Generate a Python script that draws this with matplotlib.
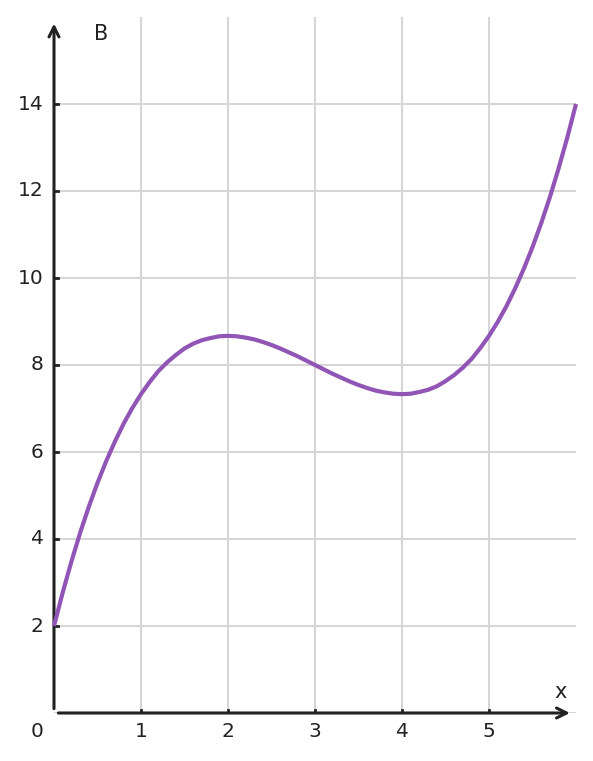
import matplotlib
matplotlib.use("Agg")
import matplotlib.pyplot as plt

# valores (paso 0.1)
x_vals = [0.0, 0.1, 0.2, 0.3, 0.4, 0.5, 0.6, 0.7, 0.8, 0.9,
          1.0, 1.1, 1.2, 1.3, 1.4, 1.5, 1.6, 1.7, 1.8, 1.9,
          2.0, 2.1, 2.2, 2.3, 2.4, 2.5, 2.6, 2.7, 2.8, 2.9,
          3.0, 3.1, 3.2, 3.3, 3.4, 3.5, 3.6, 3.7, 3.8, 3.9,
          4.0, 4.1, 4.2, 4.3, 4.4, 4.5, 4.6, 4.7, 4.8, 4.9,
          5.0, 5.1, 5.2, 5.3, 5.4, 5.5, 5.6, 5.7, 5.8, 5.9, 6.0]
b_vals = [2.00, 2.77, 3.48, 4.14, 4.74, 5.29, 5.79, 6.24, 6.65, 7.01,
          7.33, 7.61, 7.86, 8.06, 8.23, 8.38, 8.49, 8.57, 8.62, 8.66,
          8.67, 8.66, 8.63, 8.59, 8.53, 8.46, 8.38, 8.29, 8.20, 8.10,
          8.00, 7.90, 7.80, 7.71, 7.62, 7.54, 7.47, 7.41, 7.37, 7.34,
          7.33, 7.34, 7.38, 7.43, 7.51, 7.63, 7.77, 7.94, 8.14, 8.39,
          8.67, 8.99, 9.35, 9.76, 10.21, 10.71, 11.26, 11.86, 12.52, 13.23, 14.00]
x_ticks = [1, 2, 3, 4, 5]
y_ticks = [2, 4, 6, 8, 10, 12, 14]

COLOR_CURVA = "#9155b6"
COLOR_EJE = "#222222"
COLOR_GRID = "#d6d6d6"

fig = plt.figure(figsize=(5.93, 7.61), dpi=100)
ax = fig.add_axes([54 / 593, 48 / 761, 522 / 593, 696 / 761])
ax.set_xlim(0, 6)
ax.set_ylim(0, 16)

# grilla
for xv in x_ticks:
    ax.axvline(xv, color=COLOR_GRID, lw=1.5, zorder=0)
for yv in [0] + y_ticks:
    ax.axhline(yv, color=COLOR_GRID, lw=1.5, zorder=0)

for s in ax.spines.values():
    s.set_visible(False)
ax.set_xticks([])
ax.set_yticks([])

# ejes con flecha
ax.annotate("", xy=(0, 15.85), xytext=(0, 0.1),
            arrowprops=dict(arrowstyle="->", color=COLOR_EJE, lw=2.2,
                            mutation_scale=18, shrinkA=0, shrinkB=0),
            annotation_clip=False, zorder=3)
ax.annotate("", xy=(5.93, 0), xytext=(0.05, 0),
            arrowprops=dict(arrowstyle="->", color=COLOR_EJE, lw=2.2,
                            mutation_scale=18, shrinkA=0, shrinkB=0),
            annotation_clip=False, zorder=3)

# marcas de los ejes
for xv in x_ticks:
    ax.plot([xv, xv], [0, 0.08], color=COLOR_EJE, lw=2, zorder=3)
    ax.text(xv, -0.2, str(xv), ha="center", va="top", fontsize=14.5,
            color=COLOR_EJE)
for yv in y_ticks:
    ax.plot([0, 0.05], [yv, yv], color=COLOR_EJE, lw=2, zorder=3)
    ax.text(-0.12, yv, str(yv), ha="right", va="center", fontsize=14.5,
            color=COLOR_EJE)
ax.text(-0.19, -0.2, "0", ha="center", va="top", fontsize=14.5, color=COLOR_EJE)

ax.text(0.54, 15.6, "B", ha="center", va="center", fontsize=15, color=COLOR_EJE)
ax.text(5.82, 0.48, "x", ha="center", va="center", fontsize=15, color=COLOR_EJE)

# curva
ax.plot(x_vals, b_vals, color=COLOR_CURVA, lw=3, solid_capstyle="butt",
        solid_joinstyle="round", zorder=4, clip_on=False)

fig.savefig("out.png", dpi=100)
